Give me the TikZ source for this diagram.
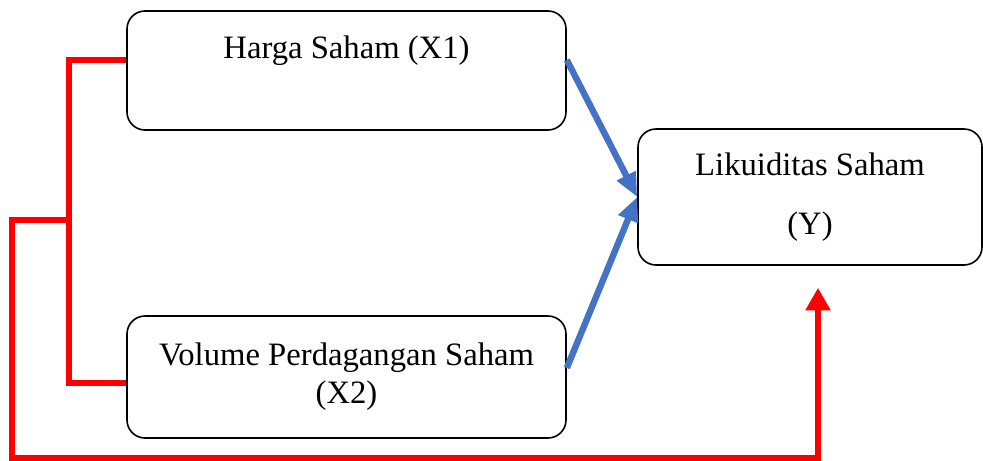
\documentclass[tikz,border=0pt]{standalone}
\usepackage{fontspec}
\setmainfont{Liberation Serif}
\usetikzlibrary{arrows.meta, positioning, calc}
\definecolor{pathblue}{RGB}{68, 114, 196}
\definecolor{pathred}{RGB}{255, 0, 0}

\begin{document}
\begin{tikzpicture}[
		% global settings (1 unit = 1 px of the reference)
		x=0.75pt, y=-0.75pt,
		font=\fontsize{24.5}{28.5}\selectfont,
		% styles
		var/.style={rectangle, draw=black, line width=1.2pt, rounded corners=13.5pt, align=center, inner sep=0pt},
		indep/.style={var, minimum width=329.25pt},
		dep/.style={var, minimum width=258pt, minimum height=102pt},
		partial/.style={-{Triangle[length=18pt, width=15pt]}, draw=pathblue, line width=4.8pt},
		joint/.style={draw=pathred, line width=4.5pt},
		jointarrow/.style={joint, -{Triangle[length=17pt, width=18pt]}}
		]
		
		\useasboundingbox (0,0) rectangle (983,461);
		
		% ==========================================
		% Variables
		% ==========================================
		
		% X1
		\node[indep, minimum height=89.25pt, text height=18pt, text depth=36.75pt] (x1) at (346.5,70.5) {Harga Saham (X1)};
		
		% X2
		\node[indep, minimum height=91.5pt] (x2) at (346.5,377) {Volume Perdagangan Saham\\(X2)};
		
		% Y
		\node[dep] (y) at (810,197) {Likuiditas Saham\\[16pt](Y)};
		
		% ==========================================
		% Partial effects (X1 -> Y, X2 -> Y)
		% ==========================================
		\draw[partial] ([yshift=7.9pt]x1.east) -- (y.west);
		\draw[partial] ([yshift=6.75pt]x2.east) -- (y.west);
		
		% ==========================================
		% Joint effect (X1, X2 -> Y)
		% ==========================================
		\coordinate (split) at (69,220);
		\coordinate (loop) at (12,458);
		
		\draw[joint] ([yshift=7.9pt]x1.west) -| (split) |- ([yshift=-4.5pt]x2.west);
		\draw[jointarrow] (split) -| (loop) -| ([xshift=6pt, yshift=-16.5pt]y.south);
		
	\end{tikzpicture}
\end{document}
